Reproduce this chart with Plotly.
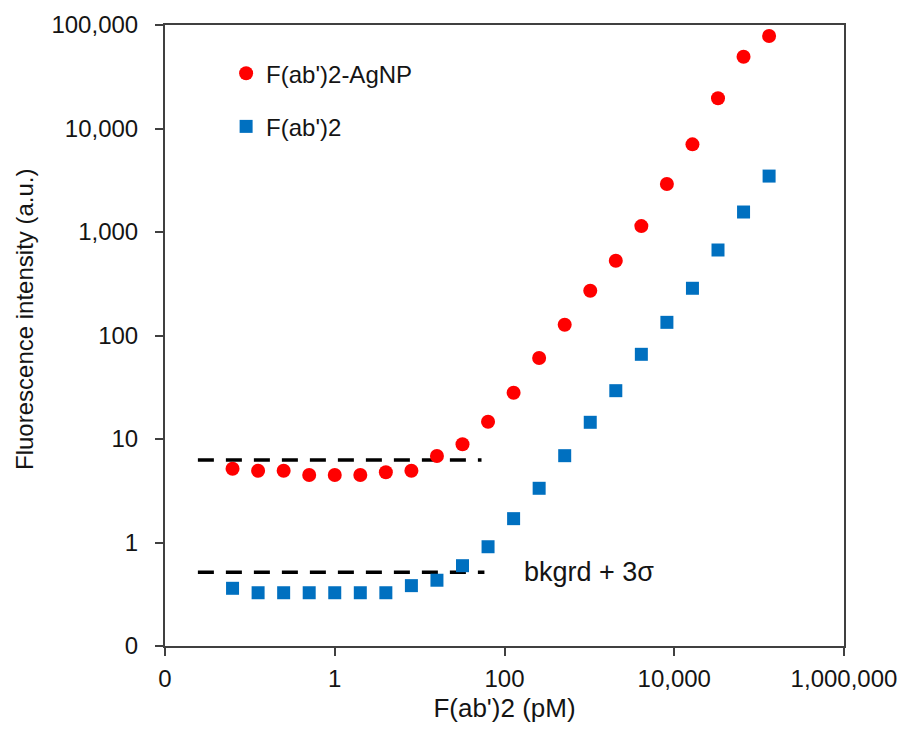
import plotly.graph_objects as go

# Data
conc_pM = [0.0625, 0.125, 0.25, 0.5, 1, 2, 4, 8, 16, 32, 64, 128, 256, 512,
           1024, 2048, 4096, 8192, 16384, 32768, 65536, 131072]
agnp_signal = [5.16, 4.94, 4.94, 4.49, 4.49, 4.49, 4.77, 4.94, 6.86, 8.9, 14.7,
               28.0, 60.7, 127, 271, 528, 1140, 2910, 7030, 19600, 49400, 78400]
fab_signal = [0.361, 0.327, 0.327, 0.327, 0.327, 0.327, 0.327, 0.383, 0.432, 0.597,
              0.91, 1.70, 3.34, 6.9, 14.5, 29.3, 65.8, 134, 286, 670, 1560, 3470]

bkgrd_agnp_x = [0.0244, 53.6]
bkgrd_agnp_y = [6.27, 6.27]
bkgrd_fab_x = [0.0244, 58]
bkgrd_fab_y = [0.515, 0.515]

x_tickvals = [0.01, 1, 100, 10000, 1000000]
x_ticktext = ["0", "1", "100", "10,000", "1,000,000"]
y_tickvals = [0.1, 1, 10, 100, 1000, 10000, 100000]
y_ticktext = ["0", "1", "10", "100", "1,000", "10,000", "100,000"]

FONT = "Liberation Sans, Arial, sans-serif"
TXT = "#141414"
AX = "#404040"

fig = go.Figure()

fig.add_trace(go.Scatter(
    x=bkgrd_agnp_x, y=bkgrd_agnp_y, mode="lines", showlegend=False,
    line=dict(color="black", width=3.5, dash="16px,12px"), hoverinfo="skip"))
fig.add_trace(go.Scatter(
    x=bkgrd_fab_x, y=bkgrd_fab_y, mode="lines", showlegend=False,
    line=dict(color="black", width=3.5, dash="16px,12px"), hoverinfo="skip"))

fig.add_trace(go.Scatter(
    x=conc_pM, y=agnp_signal, mode="markers", name="F(ab')2-AgNP",
    legendgroup="a",
    marker=dict(symbol="circle", size=14, color="#FF0000")))
fig.add_trace(go.Scatter(
    x=conc_pM, y=fab_signal, mode="markers", name="F(ab')2",
    legendgroup="b",
    marker=dict(symbol="square", size=13, color="#0070C0")))

fig.add_annotation(x=2.21, y=-0.288, xref="x", yref="y", text="bkgrd + 3σ",
                   showarrow=False, xanchor="left", yanchor="middle",
                   font=dict(family=FONT, size=27, color=TXT))

# y-axis title (placed as in the reference, slightly above the plot centre)
fig.add_annotation(x=-0.2062, y=0.5266, xref="paper", yref="paper",
                   text="Fluorescence intensity (a.u.)", textangle=-90,
                   showarrow=False, xanchor="center", yanchor="middle",
                   font=dict(family=FONT, size=24, color=TXT))

fig.update_layout(
    width=905, height=732,
    margin=dict(l=165, r=61, t=25, b=86),
    paper_bgcolor="white", plot_bgcolor="white",
    font=dict(family=FONT, size=24, color=TXT),
    legend=dict(x=0.09, y=0.958, xanchor="left", yanchor="top",
                bgcolor="rgba(0,0,0,0)", tracegroupgap=19, itemwidth=30,
                font=dict(family=FONT, size=24, color=TXT)),
    xaxis=dict(type="log", range=[-2, 6], tickvals=x_tickvals, ticktext=x_ticktext,
               ticks="outside", ticklen=8, tickwidth=2, tickcolor=AX,
               showline=True, linecolor=AX, linewidth=2, mirror=True,
               showgrid=False, zeroline=False, ticklabelstandoff=2,
               automargin=False,
               title=dict(text="F(ab')2 (pM)", standoff=8,
                          font=dict(family=FONT, size=26, color=TXT))),
    yaxis=dict(type="log", range=[-1, 5], tickvals=y_tickvals, ticktext=y_ticktext,
               ticks="outside", ticklen=8, tickwidth=2, tickcolor=AX,
               showline=True, linecolor=AX, linewidth=2, mirror=True,
               showgrid=False, zeroline=False, ticklabelstandoff=12,
               automargin=False),
)

fig.write_html("out.html")
